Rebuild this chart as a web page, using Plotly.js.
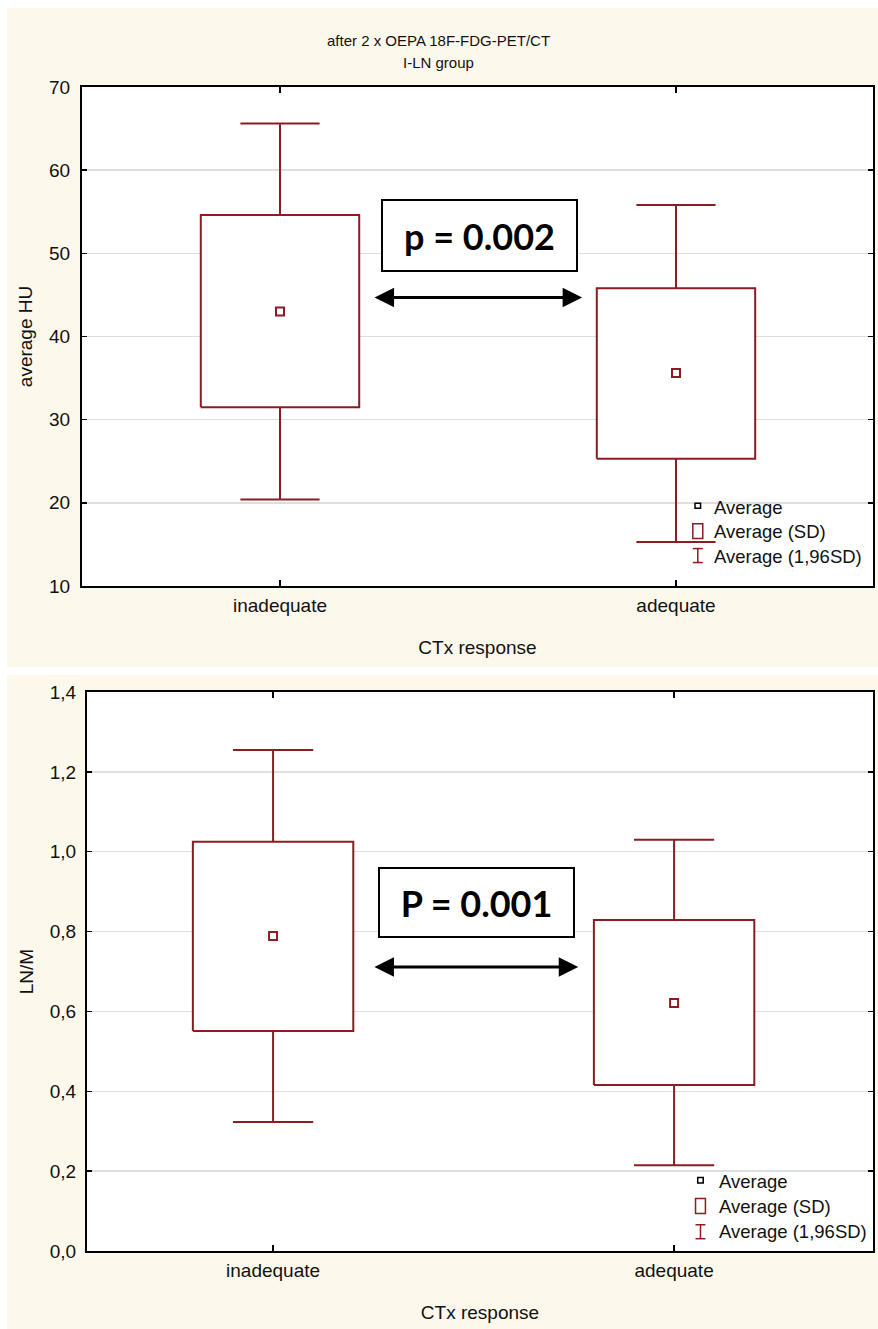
<!DOCTYPE html>
<html>
<head>
<meta charset="utf-8">
<script src="https://cdn.plot.ly/plotly-3.0.1.min.js"></script>
<style>
  html, body { margin: 0; padding: 0; background: #ffffff; width: 878px; height: 1329px; overflow: hidden; }
  #top { position: absolute; left: 7px; top: 8px; width: 871px; height: 659px; }
  #bot { position: absolute; left: 7px; top: 675px; width: 871px; height: 654px; }
</style>
</head>
<body>
<div id="top"></div>
<div id="bot"></div>
<script>
// ---- data ----
var categories = ["inadequate", "adequate"];

// panel 1: average HU
var hu_mean   = [43.0, 35.6];
var hu_sdLow  = [31.5, 25.3];
var hu_sdHigh = [54.6, 45.8];
var hu_ciLow  = [20.4, 15.3];
var hu_ciHigh = [65.6, 55.8];
var hu_ticks  = [10, 20, 30, 40, 50, 60, 70];

// panel 2: LN/M
var lnm_mean   = [0.789, 0.621];
var lnm_sdLow  = [0.551, 0.416];
var lnm_sdHigh = [1.025, 0.829];
var lnm_ciLow  = [0.323, 0.215];
var lnm_ciHigh = [1.255, 1.030];
var lnm_ticks  = [0.0, 0.2, 0.4, 0.6, 0.8, 1.0, 1.2, 1.4];
var lnm_tickText = ["0,0", "0,2", "0,4", "0,6", "0,8", "1,0", "1,2", "1,4"];

var legendLabels = ["Average", "Average (SD)", "Average (1,96SD)"];

// ---- styling ----
var RED = "#8a1c22";
var FONT = "Liberation Sans, Arial, sans-serif";
var FS = 19;
var LFS = 18.5;
var CREAM = "#fdf8ec";
var BOXW = 0.2;   // half width of box (category units)
var CAPW = 0.1;   // half width of whisker cap

function buildTraces(mean, sdL, sdH, ciL, ciH) {
  var xs = categories.map(function (c, i) { return i; });
  var wx = [], wy = [];
  var bx = [], by = [];
  xs.forEach(function (x, i) {
    wx.push(x, x, null, x - CAPW, x + CAPW, null);
    wy.push(sdH[i], ciH[i], null, ciH[i], ciH[i], null);
    wx.push(x, x, null, x - CAPW, x + CAPW, null);
    wy.push(sdL[i], ciL[i], null, ciL[i], ciL[i], null);
    bx.push(x - BOXW, x + BOXW, x + BOXW, x - BOXW, x - BOXW, null);
    by.push(sdL[i], sdL[i], sdH[i], sdH[i], sdL[i], null);
  });
  return [
    { type: "scatter", mode: "lines", x: wx, y: wy, line: { color: RED, width: 2 }, hoverinfo: "skip", showlegend: false },
    { type: "scatter", mode: "lines", x: bx, y: by, fill: "toself", fillcolor: "#ffffff", line: { color: RED, width: 2 }, hoverinfo: "skip", showlegend: false },
    { type: "scatter", mode: "markers", x: xs, y: mean, marker: { symbol: "square-open", size: 8, color: RED, line: { width: 2, color: RED } }, showlegend: false }
  ];
}

function legendAnns(xText, yTop, dy) {
  return legendLabels.map(function (t, i) {
    return { xref: "paper", yref: "paper", x: xText, y: yTop - i * dy, text: t, showarrow: false,
      xanchor: "left", yanchor: "middle", font: { family: FONT, size: LFS, color: "#111" } };
  });
}

function legendShapes(cx, hw, rows) {
  var sq = 0.0035;
  return [
    { type: "rect", xref: "paper", yref: "paper", x0: cx - sq, x1: cx + sq, y0: rows[0] - 0.005, y1: rows[0] + 0.005, line: { color: "#000", width: 1.5 } },
    { type: "rect", xref: "paper", yref: "paper", x0: cx - hw, x1: cx + hw, y0: rows[1], y1: rows[2], line: { color: RED, width: 1.5 } },
    { type: "line", xref: "paper", yref: "paper", x0: cx, x1: cx, y0: rows[3], y1: rows[4], line: { color: RED, width: 1.5 } },
    { type: "line", xref: "paper", yref: "paper", x0: cx - hw, x1: cx + hw, y0: rows[3], y1: rows[3], line: { color: RED, width: 1.5 } },
    { type: "line", xref: "paper", yref: "paper", x0: cx - hw, x1: cx + hw, y0: rows[4], y1: rows[4], line: { color: RED, width: 1.5 } }
  ];
}

function baseLayout(opts) {
  return {
    width: opts.w, height: opts.h,
    paper_bgcolor: CREAM,
    plot_bgcolor: "#ffffff",
    margin: opts.margin,
    showlegend: false,
    font: { family: FONT, size: FS, color: "#111" },
    xaxis: {
      range: opts.xr,
      tickvals: [0, 1], ticktext: categories,
      ticks: "inside", ticklen: 6, tickwidth: 1.5, tickcolor: "#000",
      showline: true, linecolor: "#000", linewidth: 2, mirror: "ticks",
      showgrid: false, zeroline: false, fixedrange: true,
      ticklabelstandoff: 1,
      tickfont: { family: FONT, size: FS, color: "#111" },
      title: { text: "CTx response", font: { family: FONT, size: FS, color: "#111" }, standoff: 26 }
    },
    yaxis: {
      range: opts.yr,
      tickvals: opts.tv, ticktext: opts.tt,
      ticks: "inside", ticklen: 5, tickwidth: 1.5, tickcolor: "#000",
      showline: true, linecolor: "#000", linewidth: 2, mirror: "ticks",
      showgrid: true, gridcolor: "#dedede", gridwidth: 1.5, zeroline: false, fixedrange: true,
      ticklabelstandoff: opts.ystand,
      tickfont: { family: FONT, size: FS, color: "#111" },
      title: { text: opts.ytitle, font: { family: FONT, size: FS, color: "#111" }, standoff: 11 }
    }
  };
}

// ---------- panel 1 ----------
var L1 = baseLayout({
  w: 871, h: 659, margin: { l: 75, r: 5, t: 79, b: 81, pad: 0 },
  xr: [-0.5, 1.4975], yr: [10, 70], tv: hu_ticks, tt: hu_ticks.map(String), ytitle: "average HU", ystand: 6
});
L1.annotations = [
  { xref: "paper", yref: "paper", x: 0.451, y: 1.094, text: "after 2 x OEPA 18F-FDG-PET/CT", showarrow: false,
    font: { family: FONT, size: 15, color: "#111" }, yanchor: "middle" },
  { xref: "paper", yref: "paper", x: 0.451, y: 1.050, text: "I-LN group", showarrow: false,
    font: { family: FONT, size: 15, color: "#111" }, yanchor: "middle" },
  { xref: "x", yref: "y", x: 0.504, y: 52.1, text: "<b>p = 0.002</b>", showarrow: false,
    font: { family: "Lato, Open Sans, sans-serif", size: 36, color: "#000" },
    bgcolor: "#ffffff", bordercolor: "#000", borderwidth: 2, borderpad: 0, width: 193, height: 69 },
  { xref: "x", yref: "y", axref: "x", ayref: "y", x: 0.763, y: 44.7, ax: 0.235, ay: 44.7, text: "",
    showarrow: true, arrowhead: 2, arrowside: "end+start", arrowwidth: 3, arrowsize: 1.3, arrowcolor: "#000" }
].concat(legendAnns(0.797, 0.158, 0.049));
L1.shapes = legendShapes(0.7785, 0.0063, [0.161, 0.095, 0.125, 0.047, 0.075]);

Plotly.newPlot("top", buildTraces(hu_mean, hu_sdLow, hu_sdHigh, hu_ciLow, hu_ciHigh), L1, { staticPlot: true });

// ---------- panel 2 ----------
var L2 = baseLayout({
  w: 871, h: 654, margin: { l: 80, r: 5, t: 17, b: 78, pad: 0 },
  xr: [-0.464, 1.496], yr: [0, 1.4], tv: lnm_ticks, tt: lnm_tickText, ytitle: "LN/M", ystand: 5
});
L2.annotations = [
  { xref: "x", yref: "y", x: 0.507, y: 0.873, text: "<b>P = 0.001</b>", showarrow: false,
    font: { family: "Lato, Open Sans, sans-serif", size: 36, color: "#000" },
    bgcolor: "#ffffff", bordercolor: "#000", borderwidth: 2, borderpad: 0, width: 193, height: 67 },
  { xref: "x", yref: "y", axref: "x", ayref: "y", x: 0.761, y: 0.711, ax: 0.249, ay: 0.711, text: "",
    showarrow: true, arrowhead: 2, arrowside: "end+start", arrowwidth: 3, arrowsize: 1.3, arrowcolor: "#000" }
].concat(legendAnns(0.801, 0.125, 0.045));
L2.shapes = legendShapes(0.7805, 0.0063, [0.1265, 0.067, 0.094, 0.022, 0.047]);

Plotly.newPlot("bot", buildTraces(lnm_mean, lnm_sdLow, lnm_sdHigh, lnm_ciLow, lnm_ciHigh), L2, { staticPlot: true });
</script>
</body>
</html>
